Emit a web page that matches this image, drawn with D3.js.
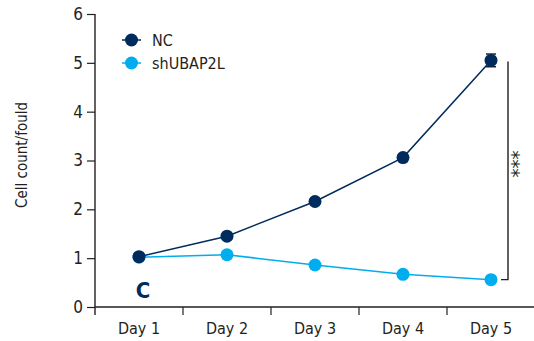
<!DOCTYPE html>
<html>
<head>
<meta charset="utf-8">
<script src="https://cdn.jsdelivr.net/npm/d3@7"></script>
<style>
  html, body { margin: 0; padding: 0; background: #fff; }
  svg { display: block; }
  text { font-family: "DejaVu Sans Condensed", "Liberation Sans Narrow", sans-serif; font-stretch: condensed; fill: #231f20; }
</style>
</head>
<body>
<svg id="chart" width="534" height="341"></svg>
<script>
// Growth curves: relative cell count per day
const days = ["Day 1", "Day 2", "Day 3", "Day 4", "Day 5"];
const ncValues = [1.03, 1.45, 2.16, 3.06, 5.05];
const ncErrors = [0.03, 0.03, 0.03, 0.03, 0.13];
const shValues = [1.02, 1.07, 0.86, 0.67, 0.56];
const seriesNames = ["NC", "shUBAP2L"];
const seriesColors = ["#002b5c", "#00aeef"];
const yTicks = [0, 1, 2, 3, 4, 5, 6];

const svg = d3.select("#chart");
const margin = { left: 95, right: 0, top: 14, bottom: 34 };
const W = 534, H = 341;

const x = d3.scaleBand().domain(days).range([margin.left, 535]).padding(0);
const y = d3.scaleLinear().domain([0, 6]).range([H - margin.bottom, margin.top]);

const axisColor = "#231f20";

// Y axis
const yAxis = svg.append("g")
  .attr("transform", `translate(${margin.left},0)`)
  .call(d3.axisLeft(y).tickValues(yTicks).tickSize(8).tickPadding(4).tickFormat(d3.format("d")));
yAxis.select(".domain").attr("stroke", axisColor).attr("stroke-width", 1.4)
  .attr("d", `M-0,${y(6)}V${y(0) + 8}`);
yAxis.selectAll(".tick line").attr("stroke", axisColor).attr("stroke-width", 1.2);
yAxis.selectAll(".tick text").style("font-size", "17px").attr("fill", axisColor);

// X axis: ticks at band boundaries, labels centered in bands
const xAxisG = svg.append("g").attr("transform", `translate(0,${y(0)})`);
xAxisG.append("line")
  .attr("x1", margin.left).attr("x2", W)
  .attr("stroke", axisColor).attr("stroke-width", 1.4);
xAxisG.selectAll("line.tk").data(days.slice(1))
  .enter().append("line").attr("class", "tk")
  .attr("x1", d => x(d)).attr("x2", d => x(d))
  .attr("y1", 0).attr("y2", 8)
  .attr("stroke", axisColor).attr("stroke-width", 1.2);
xAxisG.selectAll("text").data(days).enter().append("text")
  .attr("x", d => x(d) + x.bandwidth() / 2)
  .attr("y", 27)
  .attr("text-anchor", "middle")
  .style("font-size", "16px")
  .text(d => d);

// Y axis title
svg.append("text")
  .attr("transform", `translate(27,155) rotate(-90)`)
  .attr("text-anchor", "middle")
  .style("font-size", "15px")
  .text("Cell count/fould");

const cx = d => x(d) + x.bandwidth() / 2;

function drawSeries(values, color) {
  const pts = days.map((d, i) => [cx(d), y(values[i])]);
  svg.append("path")
    .attr("d", d3.line()(pts))
    .attr("fill", "none").attr("stroke", color).attr("stroke-width", 1.5);
  svg.append("g").selectAll("circle").data(pts).enter().append("circle")
    .attr("cx", p => p[0]).attr("cy", p => p[1]).attr("r", 6.5)
    .attr("fill", color);
}

// Error bars for NC
const eb = svg.append("g");
days.forEach((d, i) => {
  const top = y(ncValues[i] + ncErrors[i]);
  const bot = y(ncValues[i] - ncErrors[i]);
  eb.append("line").attr("x1", cx(d)).attr("x2", cx(d)).attr("y1", top).attr("y2", bot)
    .attr("stroke", seriesColors[0]).attr("stroke-width", 1.5);
  [top, bot].forEach(v => eb.append("line")
    .attr("x1", cx(d) - 5).attr("x2", cx(d) + 5).attr("y1", v).attr("y2", v)
    .attr("stroke", "#231f20").attr("stroke-width", 1.5));
});

drawSeries(shValues, seriesColors[1]);
drawSeries(ncValues, seriesColors[0]);

// Significance bracket between day-5 values
const bx = cx("Day 5") + 17;
svg.append("path")
  .attr("d", `M${bx},${y(ncValues[4]) + 1}V${y(shValues[4])}H${bx - 7}`)
  .attr("fill", "none").attr("stroke", "#231f20").attr("stroke-width", 1.4);
svg.append("text")
  .attr("transform", `translate(${bx + 10},${(y(ncValues[4]) + y(shValues[4])) / 2 - 6}) rotate(-90)`)
  .attr("text-anchor", "middle")
  .attr("dominant-baseline", "central")
  .style("font-size", "20px")
  .text("***");

// Legend
const legend = svg.append("g");
seriesNames.forEach((name, i) => {
  const ly = 40 + i * 23;
  legend.append("line").attr("x1", 122).attr("x2", 141).attr("y1", ly).attr("y2", ly)
    .attr("stroke", seriesColors[i]).attr("stroke-width", 1.5);
  legend.append("circle").attr("cx", 131.5).attr("cy", ly).attr("r", 6.5).attr("fill", seriesColors[i]);
  legend.append("text").attr("x", 152).attr("y", ly).attr("dominant-baseline", "central")
    .style("font-size", "16px").text(name);
});

// Panel letter
svg.append("text")
  .attr("x", 143).attr("y", 298)
  .attr("text-anchor", "middle")
  .style("font-size", "22px").style("font-weight", "bold")
  .style("fill", seriesColors[0])
  .text("C");
</script>
</body>
</html>
